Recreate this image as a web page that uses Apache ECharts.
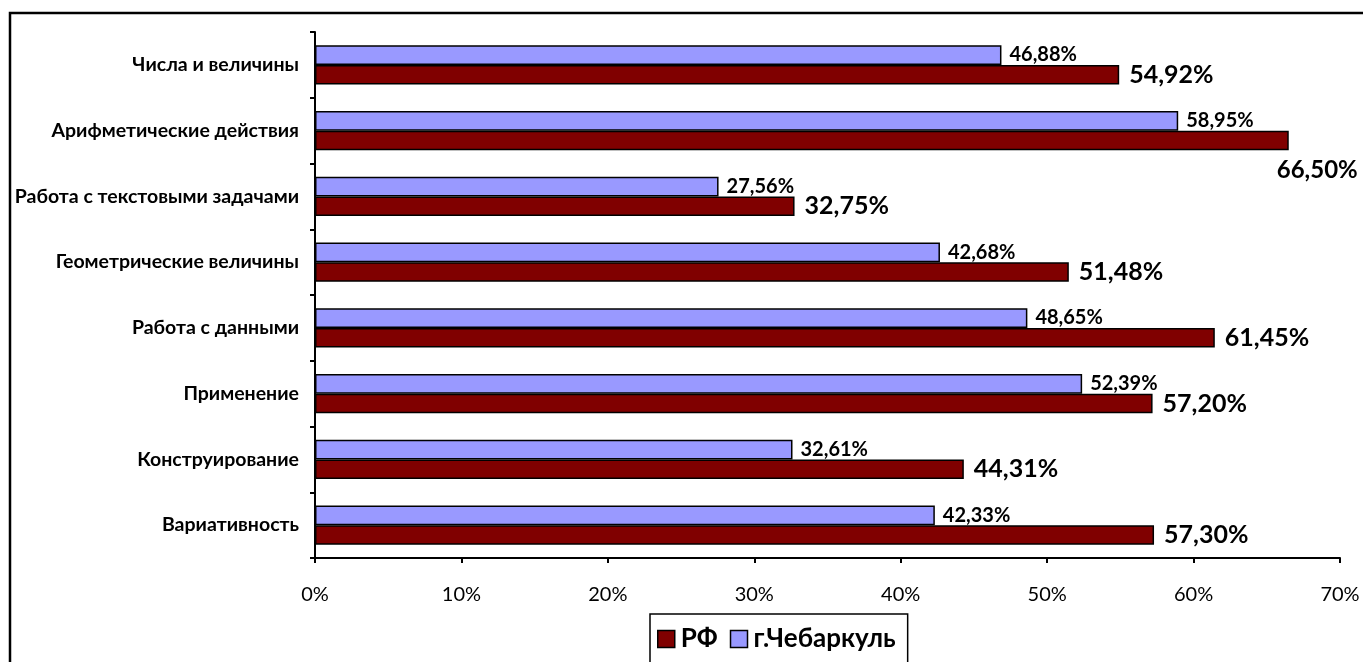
<!DOCTYPE html>
<html>
<head>
<meta charset="utf-8">
<script src="https://cdn.jsdelivr.net/npm/echarts@6/dist/echarts.min.js"></script>
<style>
html,body{margin:0;padding:0;background:#fff;}
#c{width:1363px;height:662px;}
</style>
</head>
<body>
<div id="c"></div>
<script>
var categories = ['Числа и величины','Арифметические действия','Работа с текстовыми задачами','Геометрические величины','Работа с данными','Применение','Конструирование','Вариативность'];
var rfValues = [54.92, 66.50, 32.75, 51.48, 61.45, 57.20, 44.31, 57.30];
var chebValues = [46.88, 58.95, 27.56, 42.68, 48.65, 52.39, 32.61, 42.33];
var seriesNames = ['РФ', 'г.Чебаркуль'];
var xTicks = [0, 10, 20, 30, 40, 50, 60, 70];

var FONT = 'Lato';
function fmt(v){ return v.toFixed(2).replace('.', ',') + '%'; }

var chart = echarts.init(document.getElementById('c'));
var xMax = xTicks[xTicks.length-1];

var rfData = rfValues.map(function(v){
  if (v > xMax - 5) {
    return {value: v, label: {offset: [-22, 30], fontSize: 24}};
  }
  return v;
});

chart.setOption({
  animation: false,
  textStyle: {fontFamily: FONT},
  graphic: [{
    type: 'rect', shape: {x: 10, y: 13, width: 1400, height: 700},
    style: {fill: 'none', stroke: '#000', lineWidth: 2.5}, silent: true, z: -1
  }],
  legend: {
    data: seriesNames,
    left: 650, top: 614,
    padding: [12, 12, 20, 7],
    borderColor: '#000', borderWidth: 1.5,
    itemWidth: 17, itemHeight: 17, itemGap: 12,
    textStyle: {fontFamily: FONT, fontWeight: 'bold', fontSize: 26, color: '#000', padding: [0,0,0,1]},
    icon: 'rect',
    itemStyle: {borderColor: '#000', borderWidth: 1.5}
  },
  grid: {left: 315, right: 23, top: 32, bottom: 104, containLabel: false},
  xAxis: {
    type: 'value', min: 0, max: xMax, interval: 10,
    splitLine: {show: false},
    axisLine: {show: true, lineStyle: {color: '#000', width: 2}},
    axisTick: {show: true, length: 5, lineStyle: {color: '#000', width: 2}},
    axisLabel: {formatter: function(v){ return v + '%'; }, color: '#000', fontSize: 20, margin: 27, fontFamily: FONT}
  },
  yAxis: {
    type: 'category', data: categories, inverse: true,
    axisLine: {show: true, lineStyle: {color: '#000', width: 2}},
    axisTick: {show: true, length: 5, lineStyle: {color: '#000', width: 2}},
    axisLabel: {color: '#000', fontWeight: 'bold', fontSize: 19.5, margin: 16, fontFamily: FONT}
  },
  series: [
    {
      name: seriesNames[1], type: 'bar', data: chebValues,
      barGap: '0%', barCategoryGap: '40%',
      itemStyle: {color: '#9999FF', borderColor: '#000', borderWidth: 1.5},
      label: {show: true, position: 'right', distance: 8, formatter: function(p){ return fmt(p.value); },
        color: '#000', fontWeight: 'bold', fontSize: 20, fontFamily: FONT}
    },
    {
      name: seriesNames[0], type: 'bar', data: rfData,
      barGap: '0%', barCategoryGap: '40%',
      itemStyle: {color: '#800000', borderColor: '#000', borderWidth: 1.5},
      label: {show: true, position: 'right', distance: 10, formatter: function(p){ return fmt(p.value); },
        color: '#000', fontWeight: 'bold', fontSize: 25, fontFamily: FONT}
    }
  ]
});
</script>
</body>
</html>
